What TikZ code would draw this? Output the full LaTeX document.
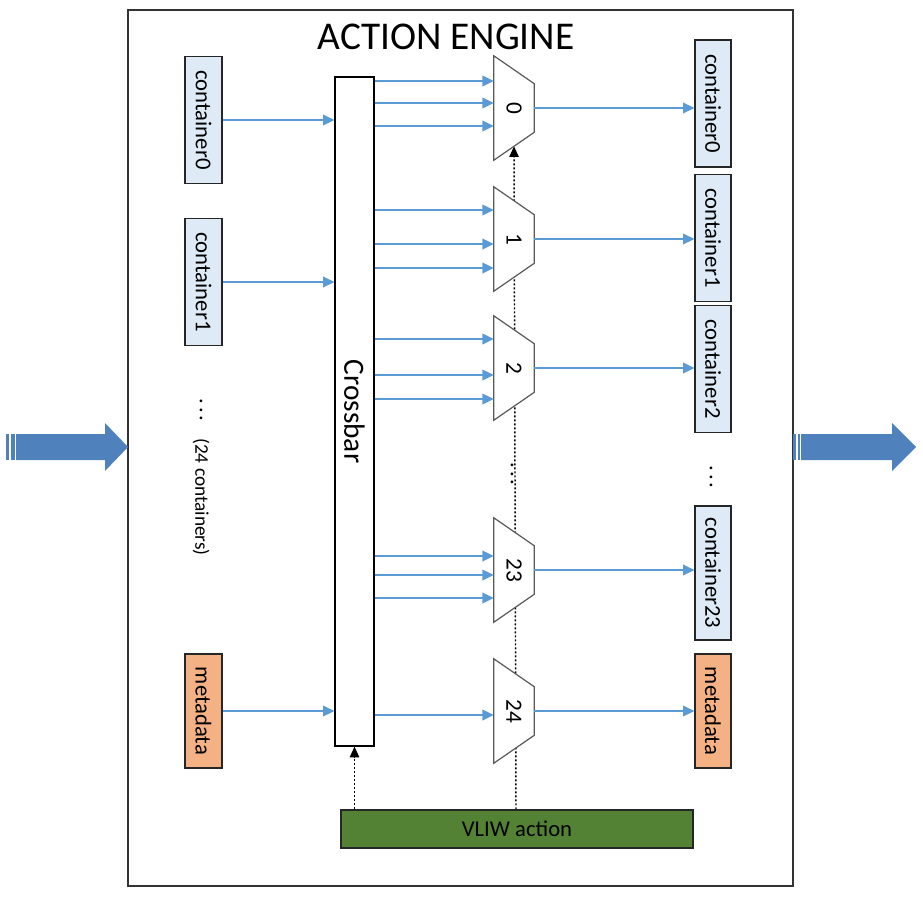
\documentclass[tikz,border=0pt]{standalone}
\usepackage{fontspec}
\setmainfont{Carlito}
\usepackage{graphicx}
\usetikzlibrary{arrows.meta,calc}
\definecolor{contblue}{HTML}{DEEBF7}
\definecolor{metaorange}{HTML}{F4B183}
\definecolor{sigblue}{HTML}{5B9BD5}
\definecolor{bigblue}{HTML}{4F81BD}
\definecolor{vliwgreen}{HTML}{548235}
\pgfdeclarelayer{bg}
\pgfdeclarelayer{mid}
\pgfsetlayers{bg,mid,main}
\newcommand\muxtrap[1]{\path[muxshape] (#1.north west) -- ($(#1.north east)+(0,28)$) -- ($(#1.south east)+(0,-28)$) -- (#1.south west) -- cycle;}
\newcommand\vdotsrow{.\kern2.2pt.\kern2.2pt.}
\begin{document}
\begin{tikzpicture}[x=0.75pt,y=-0.75pt,
  box/.style={draw=black!85, line width=0.9pt, inner sep=0pt, font=\fontsize{17}{20}\selectfont},
  lcont/.style={box, fill=contblue, minimum width=27.75pt, minimum height=95.25pt},
  rcont/.style={box, fill=contblue, minimum width=27pt, minimum height=95.25pt},
  meta/.style={box, fill=metaorange, minimum height=85.5pt},
  sig/.style={draw=sigblue, line width=1.1pt, -{Triangle[length=8.5pt,width=8pt]}},
  ctl/.style={draw=black, line width=1.1pt, dash pattern=on 1.5pt off 1.5pt, -{Triangle[length=8pt,width=7pt]}},
  muxlbl/.style={inner sep=0pt, minimum width=30pt, minimum height=78pt, font=\fontsize{17.5}{20}\selectfont},
  muxshape/.style={draw=black!65, line width=0.9pt, fill=white},
  big/.style={fill=bigblue, draw=none},
  note/.style={inner sep=0pt, rotate=-90}
]
\useasboundingbox (0,0) rectangle (923,896);

% frame
\node[draw=black!80, line width=0.8pt, minimum width=498.75pt, minimum height=657pt, inner sep=0pt] (frame) at (460.5,448) {};
\node[font=\fontsize{29.5}{34}\selectfont] (title) at (446,37) {ACTION ENGINE};

% big arrows
\fill[big] (6,434) rectangle (9,460);
\fill[big] (10.5,434) rectangle (14.5,460);
\fill[big] (16,434) -- (105,434) -- (105,423) -- (128,447) -- (105,471) -- (105,460) -- (16,460) -- cycle;
\fill[big] (793,434) rectangle (796,460);
\fill[big] (797.5,434) rectangle (800,460);
\fill[big] (801,434) -- (892,434) -- (892,423) -- (916,447) -- (892,471) -- (892,460) -- (801,460) -- cycle;

% left containers
\node[lcont] (lc0) at (203.5,120) {\rotatebox{-90}{container0}};
\node[lcont] (lc1) at (203.5,282) {\rotatebox{-90}{container1}};
\node[meta, minimum width=27.75pt] (lmeta) at (203.5,711) {\rotatebox{-90}{metadata}};
\node[note, font=\fontsize{17}{20}\selectfont] (ldots) at (201,410) {\vdotsrow};
\node[note, font=\fontsize{14.5}{17}\selectfont] (lnote) at (201,497) {(24 containers)};

% crossbar
\node[box, draw=black, fill=white, minimum width=29.25pt, minimum height=501.75pt, font=\fontsize{22}{26}\selectfont] (xbar) at (354.5,411.5) {\rotatebox{-90}{Crossbar}};

% mux label nodes
\node[muxlbl] (m0) at (514,108) {\rotatebox{-90}{0}};
\node[muxlbl] (m1) at (514,239) {\rotatebox{-90}{1}};
\node[muxlbl] (m2) at (514,368) {\rotatebox{-90}{2}};
\node[muxlbl] (m23) at (514,570) {\rotatebox{-90}{23}};
\node[muxlbl] (m24) at (514,711) {\rotatebox{-90}{24}};
\node[note, font=\fontsize{17}{20}\selectfont] (mdots) at (512,474) {\vdotsrow};

\begin{pgfonlayer}{mid}
\muxtrap{m0}
\muxtrap{m1}
\muxtrap{m2}
\muxtrap{m23}
\muxtrap{m24}
\end{pgfonlayer}

% right containers
\node[rcont] (rc0) at (713,103.5) {\rotatebox{-90}{container0}};
\node[rcont] (rc1) at (713,238) {\rotatebox{-90}{container1}};
\node[rcont] (rc2) at (713,369) {\rotatebox{-90}{container2}};
\node[rcont, minimum height=100.5pt] (rc23) at (713,573) {\rotatebox{-90}{container23}};
\node[meta, minimum width=27pt] (rmeta) at (713,711) {\rotatebox{-90}{metadata}};
\node[note, font=\fontsize{17}{20}\selectfont] (rdots) at (711,477) {\vdotsrow};

% VLIW
\node[box, fill=vliwgreen, minimum width=264pt, minimum height=28.5pt] (vliw) at (517,829) {VLIW action};

% left inputs
\draw[sig] (lc0.east) -- (lc0.east -| xbar.west);
\draw[sig] (lc1.east) -- (lc1.east -| xbar.west);
\draw[sig] (lmeta.east) -- (lmeta.east -| xbar.west);

% crossbar to muxes
\draw[sig] (xbar.east |- 0,81) -- (m0.west |- 0,81);
\draw[sig] (xbar.east |- 0,103) -- (m0.west |- 0,103);
\draw[sig] (xbar.east |- 0,126) -- (m0.west |- 0,126);
\draw[sig] (xbar.east |- 0,210) -- (m1.west |- 0,210);
\draw[sig] (xbar.east |- 0,244) -- (m1.west |- 0,244);
\draw[sig] (xbar.east |- 0,268) -- (m1.west |- 0,268);
\draw[sig] (xbar.east |- 0,339) -- (m2.west |- 0,339);
\draw[sig] (xbar.east |- 0,375) -- (m2.west |- 0,375);
\draw[sig] (xbar.east |- 0,399) -- (m2.west |- 0,399);
\draw[sig] (xbar.east |- 0,556) -- (m23.west |- 0,556);
\draw[sig] (xbar.east |- 0,575) -- (m23.west |- 0,575);
\draw[sig] (xbar.east |- 0,598) -- (m23.west |- 0,598);
\draw[sig] (xbar.east |- 0,715) -- (m24.west |- 0,715);

% mux outputs
\draw[sig] (m0.east) -- (m0.east -| rc0.west);
\draw[sig] (m1.east) -- (m1.east -| rc1.west);
\draw[sig] (m2.east) -- (m2.east -| rc2.west);
\draw[sig] (m23.east) -- (m23.east -| rc23.west);
\draw[sig] (m24.east) -- (m24.east -| rmeta.west);

% control
\draw[ctl] (vliw.north -| xbar.south) -- (xbar.south);
\begin{pgfonlayer}{bg}
\draw[ctl] ($(vliw.north -| m0.south)+(2,0)$) -- ($(m0.south)+(0,-14)$);
\end{pgfonlayer}
\end{tikzpicture}
\end{document}
